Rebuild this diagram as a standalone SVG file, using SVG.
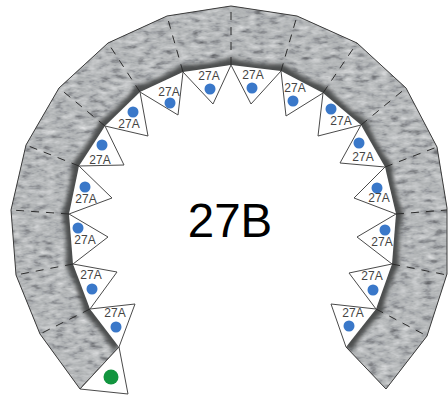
<svg xmlns="http://www.w3.org/2000/svg" width="448" height="396" viewBox="0 0 448 396">
<style>
.t{fill:#fff;stroke:#4a4a4a;stroke-width:1;stroke-linejoin:miter}
.b{fill:#3a78c9}
.g{fill:#12953f}
.l{font-family:"Liberation Sans",Arial,sans-serif;font-size:12px;fill:#444;text-anchor:middle}
.d{fill:none;stroke:#2c2c2c;stroke-width:1;stroke-dasharray:8 7}
</style>
<defs>
<filter id="stone" x="0" y="0" width="100%" height="100%" color-interpolation-filters="sRGB">
<feTurbulence type="fractalNoise" baseFrequency="0.09 0.2" numOctaves="3" seed="11" result="n"/>
<feColorMatrix in="n" type="matrix" values="0.38 0.38 0 0 0.16  0.38 0.38 0 0 0.16  0.38 0.38 0 0 0.17  0 0 0 0 1" result="c"/>
<feComposite in="c" in2="SourceAlpha" operator="in" result="m"/>
<feBlend in="SourceGraphic" in2="m" mode="overlay"/>
</filter>
<filter id="blur" x="-10%" y="-10%" width="120%" height="120%"><feGaussianBlur stdDeviation="2"/></filter>
<clipPath id="bandClip"><path d="M80,389 L40,334 16,275 11,210 26,145 59,88 108,43 167,16 231,6 297,16 357,43 406,88 437,147 447,208 447,274 427,336 386,389 L346,347 A165,165 0 0 1 376,309 A165,165 0 0 1 392,264 A165,165 0 0 1 396,214 A165,165 0 0 1 385,167 A165,165 0 0 1 361,125 A165,165 0 0 1 323,93 A165,165 0 0 1 281,71 A165,165 0 0 1 231,65 A165,165 0 0 1 183,72 A165,165 0 0 1 140,92 A165,165 0 0 1 105,126 A165,165 0 0 1 79,166 A165,165 0 0 1 69,214 A165,165 0 0 1 73,264 A165,165 0 0 1 90,309 A165,165 0 0 1 119,347 Z"/></clipPath>
</defs>
<rect width="448" height="396" fill="#fff"/>
<g id="band">
<path filter="url(#stone)" fill="#adb0b0" d="M80,389 L40,334 16,275 11,210 26,145 59,88 108,43 167,16 231,6 297,16 357,43 406,88 437,147 447,208 447,274 427,336 386,389 L346,347 A165,165 0 0 1 376,309 A165,165 0 0 1 392,264 A165,165 0 0 1 396,214 A165,165 0 0 1 385,167 A165,165 0 0 1 361,125 A165,165 0 0 1 323,93 A165,165 0 0 1 281,71 A165,165 0 0 1 231,65 A165,165 0 0 1 183,72 A165,165 0 0 1 140,92 A165,165 0 0 1 105,126 A165,165 0 0 1 79,166 A165,165 0 0 1 69,214 A165,165 0 0 1 73,264 A165,165 0 0 1 90,309 A165,165 0 0 1 119,347 Z"/>
<g clip-path="url(#bandClip)">
<path filter="url(#blur)" fill="none" stroke="#4b4d4d" stroke-width="14" d="M346,347 A165,165 0 0 1 376,309 A165,165 0 0 1 392,264 A165,165 0 0 1 396,214 A165,165 0 0 1 385,167 A165,165 0 0 1 361,125 A165,165 0 0 1 323,93 A165,165 0 0 1 281,71 A165,165 0 0 1 231,65 A165,165 0 0 1 183,72 A165,165 0 0 1 140,92 A165,165 0 0 1 105,126 A165,165 0 0 1 79,166 A165,165 0 0 1 69,214 A165,165 0 0 1 73,264 A165,165 0 0 1 90,309 A165,165 0 0 1 119,347"/>
</g>
<path fill="none" stroke="#3d3d3d" stroke-width="1" d="M119,347 L80,389 40,334 16,275 11,210 26,145 59,88 108,43 167,16 231,6 297,16 357,43 406,88 437,147 447,208 447,274 427,336 386,389 346,347"/>
</g>
<g id="connectors">
<path class="d" d="M231,65 L231,6"/><path class="d" d="M183,72 L167,16"/><path class="d" d="M140,92 L108,43"/><path class="d" d="M105,126 L59,88"/><path class="d" d="M79,166 L26,145"/><path class="d" d="M69,214 L11,210"/><path class="d" d="M73,264 L16,275"/><path class="d" d="M90,309 L40,334"/><path class="d" d="M119,347 L80,389"/>
<path class="d" d="M281,71 L297,16"/><path class="d" d="M323,93 L357,43"/><path class="d" d="M361,125 L406,88"/><path class="d" d="M385,167 L437,147"/><path class="d" d="M396,214 L447,210"/><path class="d" d="M392,264 L447,275"/><path class="d" d="M376,309 L427,336"/>
</g>
<g id="tooth-green"><polygon class="t" points="119,347 128,394 80,389"/><circle class="g" cx="111" cy="377" r="7.5"/></g>
<g id="tooth-l1"><polyline class="t" points="90,309 135,304 119,347"/><circle class="b" cx="116" cy="327" r="5.5"/><text class="l" x="115" y="317">27A</text></g>
<g id="tooth-l2"><polyline class="t" points="73,264 117,272 90,309"/><circle class="b" cx="92" cy="289" r="5.5"/><text class="l" x="91" y="279">27A</text></g>
<g id="tooth-l3"><polyline class="t" points="69,214 108,237 73,264"/><circle class="b" cx="78" cy="228" r="5.5"/><text class="l" x="85" y="244">27A</text></g>
<g id="tooth-l4"><polyline class="t" points="79,166 112,198 69,214"/><circle class="b" cx="85" cy="187" r="5.5"/><text class="l" x="86" y="203">27A</text></g>
<g id="tooth-l5"><polyline class="t" points="105,126 124,165 79,166"/><circle class="b" cx="102" cy="145" r="5.5"/><text class="l" x="100" y="164">27A</text></g>
<g id="tooth-l6"><polyline class="t" points="140,92 148,136 105,126"/><circle class="b" cx="133" cy="112" r="5.5"/><text class="l" x="129" y="128">27A</text></g>
<g id="tooth-l7"><polyline class="t" points="183,72 178,115 140,92"/><circle class="b" cx="170" cy="103" r="5.5"/><text class="l" x="169" y="96">27A</text></g>
<g id="tooth-l8"><polyline class="t" points="231,65 213,104 183,72"/><circle class="b" cx="210" cy="89" r="5.5"/><text class="l" x="209" y="80">27A</text></g>
<g id="tooth-r8"><polyline class="t" points="281,71 251,104 231,65"/><circle class="b" cx="252" cy="88" r="5.5"/><text class="l" x="253" y="79">27A</text></g>
<g id="tooth-r7"><polyline class="t" points="323,93 286,116 281,71"/><circle class="b" cx="293" cy="101" r="5.5"/><text class="l" x="295" y="92">27A</text></g>
<g id="tooth-r6"><polyline class="t" points="361,125 318,136 323,93"/><circle class="b" cx="331" cy="109" r="5.5"/><text class="l" x="341" y="125">27A</text></g>
<g id="tooth-r5"><polyline class="t" points="385,167 340,163 361,125"/><circle class="b" cx="359" cy="143" r="5.5"/><text class="l" x="363" y="161">27A</text></g>
<g id="tooth-r4"><polyline class="t" points="396,214 354,198 385,167"/><circle class="b" cx="377" cy="188" r="5.5"/><text class="l" x="379" y="202">27A</text></g>
<g id="tooth-r3"><polyline class="t" points="392,264 357,237 396,214"/><circle class="b" cx="385" cy="230" r="5.5"/><text class="l" x="382" y="246">27A</text></g>
<g id="tooth-r2"><polyline class="t" points="376,309 349,273 392,264"/><circle class="b" cx="373" cy="290" r="5.5"/><text class="l" x="372" y="280">27A</text></g>
<g id="tooth-r1"><polyline class="t" points="346,347 331,304 376,309"/><circle class="b" cx="349" cy="326" r="5.5"/><text class="l" x="353" y="317">27A</text></g>
<text id="title" x="230" y="237" font-family="'Liberation Sans',Arial,sans-serif" font-size="47.5" fill="#000" text-anchor="middle">27B</text>
</svg>
